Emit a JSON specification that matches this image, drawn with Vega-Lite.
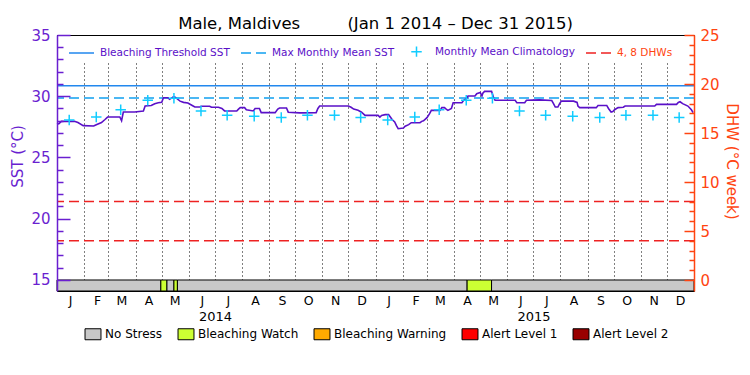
{
  "$schema": "https://vega.github.io/schema/vega-lite/v6.json",
  "width": 637,
  "height": 256,
  "autosize": {"type": "none"},
  "padding": {"left": 57, "top": 35, "right": 56, "bottom": 84},
  "title": {"text": "Male, Maldives\u00a0\u00a0\u00a0\u00a0\u00a0\u00a0\u00a0\u00a0\u00a0(Jan 1 2014 \u2013 Dec 31 2015)", "font": "DejaVu Sans", "fontSize": 16.5, "fontWeight": "normal", "color": "black", "anchor": "middle", "frame": "group", "offset": -17, "baseline": "alphabetic"},
  "config": {
    "font": "DejaVu Sans",
    "view": {"stroke": "black", "strokeWidth": 1},
    "axis": {"labelFont": "DejaVu Sans", "titleFont": "DejaVu Sans"},
    "legend": {"labelFont": "DejaVu Sans"}
  },
  "resolve": {"scale": {"y": "independent"}, "axis": {"x": "independent"}},
  "layer": [
    {
      "layer": [
        {
          "data": {"values": [
            {"start": "2014/01/01", "end": "2014/04/30", "level": "No Stress"},
            {"start": "2014/04/30", "end": "2014/05/07", "level": "Bleaching Watch"},
            {"start": "2014/05/07", "end": "2014/05/15", "level": "No Stress"},
            {"start": "2014/05/15", "end": "2014/05/19", "level": "Bleaching Watch"},
            {"start": "2014/05/19", "end": "2015/04/16", "level": "No Stress"},
            {"start": "2015/04/16", "end": "2015/05/14", "level": "Bleaching Watch"},
            {"start": "2015/05/14", "end": "2016/01/01", "level": "No Stress"}
          ]},
          "mark": {"type": "rect", "stroke": "black", "strokeWidth": 1},
          "encoding": {
            "x": {"field": "start", "type": "temporal",
              "scale": {"domain": [{"year": 2014, "month": 1, "date": 1}, {"year": 2016, "month": 1, "date": 1}]},
              "axis": {"orient": "bottom", "title": null,
                "values": [
                  {"year": 2014, "month": 1, "date": 1}, {"year": 2014, "month": 2, "date": 1}, {"year": 2014, "month": 3, "date": 1}, {"year": 2014, "month": 4, "date": 1},
                  {"year": 2014, "month": 5, "date": 1}, {"year": 2014, "month": 6, "date": 1}, {"year": 2014, "month": 7, "date": 1}, {"year": 2014, "month": 8, "date": 1},
                  {"year": 2014, "month": 9, "date": 1}, {"year": 2014, "month": 10, "date": 1}, {"year": 2014, "month": 11, "date": 1}, {"year": 2014, "month": 12, "date": 1},
                  {"year": 2015, "month": 1, "date": 1}, {"year": 2015, "month": 2, "date": 1}, {"year": 2015, "month": 3, "date": 1}, {"year": 2015, "month": 4, "date": 1},
                  {"year": 2015, "month": 5, "date": 1}, {"year": 2015, "month": 6, "date": 1}, {"year": 2015, "month": 7, "date": 1}, {"year": 2015, "month": 8, "date": 1},
                  {"year": 2015, "month": 9, "date": 1}, {"year": 2015, "month": 10, "date": 1}, {"year": 2015, "month": 11, "date": 1}, {"year": 2015, "month": 12, "date": 1}
                ],
                "labelExpr": "substring(timeFormat(datum.value, '%b'), 0, 1)",
                "labelOffset": 13, "labelPadding": 3, "tickSize": 0, "domain": false,
                "grid": true, "gridColor": "black", "gridDash": [1, 3], "gridWidth": 1, "gridOpacity": 1,
                "labelFontSize": 12.5, "labelColor": "black", "labelFlush": false, "labelOverlap": false}},
            "x2": {"field": "end"},
            "y": {"datum": 14.102, "type": "quantitative", "scale": {"domain": [14.102, 35], "nice": false, "zero": false}},
            "y2": {"datum": 15},
            "fill": {"field": "level", "type": "nominal",
              "scale": {"domain": ["No Stress", "Bleaching Watch", "Bleaching Warning", "Alert Level 1", "Alert Level 2"],
                        "range": ["#C8C8C8", "#CCFF33", "#FFAA00", "#FF0000", "#990000"]},
              "legend": {"orient": "none", "legendX": 30, "legendY": 293, "direction": "horizontal", "title": null,
                "symbolType": "M-1.45,-1H1.45V1H-1.45Z", "symbolSize": 121, "symbolStrokeColor": "black", "symbolStrokeWidth": 1,
                "labelFontSize": 12, "labelColor": "black", "columnPadding": 13, "labelOffset": 6, "padding": 0}}
          }
        },
        {
          "data": {"values": [
            {"series": "Bleaching Threshold SST", "sst": 30.85},
            {"series": "Max Monthly Mean SST", "sst": 29.85}
          ]},
          "mark": {"type": "rule", "strokeWidth": 1.5},
          "encoding": {
            "y": {"field": "sst", "type": "quantitative", "scale": {"domain": [14.102, 35], "nice": false, "zero": false},
              "axis": {"orient": "left", "title": "SST (\u00b0C)", "zindex": 1,
                "values": [15, 20, 25, 30, 35],
                "tickSize": -13, "labelPadding": 20,
                "domainColor": "#6A1FD0", "domainWidth": 1.5, "tickColor": "#6A1FD0", "tickWidth": 1.5,
                "labelColor": "#6A1FD0", "labelFontSize": 15, "grid": false, "labelOverlap": false, "labelFlush": false,
                "titleColor": "#6A1FD0", "titleFontSize": 15, "titleFontWeight": "normal",
                "titleX": -40, "titleY": 121, "titleAngle": -90, "titleAlign": "center", "titleBaseline": "middle"}},
            "color": {"field": "series", "type": "nominal",
              "scale": {"domain": ["Bleaching Threshold SST", "Max Monthly Mean SST", "Monthly Mean Climatology", "4, 8 DHWs"],
                        "range": ["#2288EE", "#11A0F0", "#11CCFF", "#EE2222"]},
              "legend": {"orient": "none", "legendX": 9, "legendY": 1, "direction": "horizontal", "title": null,
                "fillColor": "white", "padding": 2, "labelFontSize": 10.5, "labelOffset": 5, "columnPadding": 8, "symbolSize": 400,
                "encoding": {
                  "symbols": {
                    "shape": {"value": {"expr": "datum.value === 'Monthly Mean Climatology' ? 'M-1,0H1M0,-1V1' : 'stroke'"}},
                    "size": {"value": {"expr": "datum.value === 'Monthly Mean Climatology' ? 110 : 625"}},
                    "strokeDash": {"value": {"expr": "(datum.value === 'Max Monthly Mean SST' || datum.value === '4, 8 DHWs') ? [10, 5] : [1, 0]"}},
                    "stroke": {"value": {"expr": "scale('color', datum.value)"}},
                    "strokeWidth": {"value": 1.5},
                    "fill": {"value": "transparent"},
                    "opacity": {"value": 1}
                  },
                  "labels": {
                    "fill": {"value": {"expr": "datum.value === '4, 8 DHWs' ? '#FF4411' : '#5A10C8'"}}
                  }
                }}},
            "strokeDash": {"field": "series", "type": "nominal",
              "scale": {"domain": ["Bleaching Threshold SST", "Max Monthly Mean SST"], "range": [[1, 0], [10, 5]]},
              "legend": null}
          }
        }
      ]
    },
    {
      "layer": [
        {
          "data": {"values": [
            {"series": "4, 8 DHWs", "dhw": 4},
            {"series": "4, 8 DHWs", "dhw": 8}
          ]},
          "mark": {"type": "rule", "strokeWidth": 1.5, "strokeDash": [10, 5]},
          "encoding": {
            "y": {"field": "dhw", "type": "quantitative", "scale": {"domain": [-1.122, 25], "nice": false, "zero": false},
              "axis": {"orient": "right", "title": "DHW (\u00b0C week)", "zindex": 1,
                "values": [0, 5, 10, 15, 20, 25],
                "tickSize": -10, "labelPadding": 16,
                "domainColor": "#FF4411", "domainWidth": 1.5, "tickColor": "#FF4411", "tickWidth": 1.5,
                "labelColor": "#FF4411", "labelFontSize": 15, "grid": false, "labelOverlap": false, "labelFlush": false,
                "titleColor": "#FF4411", "titleFontSize": 15, "titleFontWeight": "normal",
                "titleX": 37, "titleY": 126, "titleAngle": 90, "titleAlign": "center", "titleBaseline": "middle"}},
            "color": {"field": "series", "type": "nominal",
              "scale": {"domain": ["Bleaching Threshold SST", "Max Monthly Mean SST", "Monthly Mean Climatology", "4, 8 DHWs"],
                        "range": ["#2288EE", "#11A0F0", "#11CCFF", "#EE2222"]}}
          }
        }
      ]
    },
    {
      "layer": [
        {
          "data": {"values": [
            {"date": "2014/01/01", "sst": 27.8}, {"date": "2014/01/03", "sst": 27.75}, {"date": "2014/01/06", "sst": 27.95},
            {"date": "2014/01/21", "sst": 27.95}, {"date": "2014/01/25", "sst": 27.85}, {"date": "2014/01/31", "sst": 27.6},
            {"date": "2014/02/12", "sst": 27.57}, {"date": "2014/02/15", "sst": 27.68}, {"date": "2014/02/21", "sst": 27.85},
            {"date": "2014/02/25", "sst": 28.1}, {"date": "2014/02/28", "sst": 28.3}, {"date": "2014/03/14", "sst": 28.31},
            {"date": "2014/03/16", "sst": 28.0}, {"date": "2014/03/18", "sst": 28.71}, {"date": "2014/03/31", "sst": 28.72},
            {"date": "2014/04/10", "sst": 28.8}, {"date": "2014/04/12", "sst": 29.2}, {"date": "2014/04/19", "sst": 29.25},
            {"date": "2014/04/23", "sst": 29.39}, {"date": "2014/04/27", "sst": 29.47}, {"date": "2014/05/01", "sst": 29.5},
            {"date": "2014/05/03", "sst": 29.88}, {"date": "2014/05/08", "sst": 29.88}, {"date": "2014/05/10", "sst": 29.75},
            {"date": "2014/05/14", "sst": 29.94}, {"date": "2014/05/16", "sst": 29.94}, {"date": "2014/05/22", "sst": 29.6},
            {"date": "2014/05/26", "sst": 29.5}, {"date": "2014/05/31", "sst": 29.45}, {"date": "2014/06/06", "sst": 29.2},
            {"date": "2014/06/08", "sst": 29.12}, {"date": "2014/06/14", "sst": 29.12}, {"date": "2014/06/15", "sst": 29.18},
            {"date": "2014/06/25", "sst": 29.18}, {"date": "2014/06/27", "sst": 29.1}, {"date": "2014/07/05", "sst": 29.1},
            {"date": "2014/07/09", "sst": 29.0}, {"date": "2014/07/12", "sst": 28.8}, {"date": "2014/07/26", "sst": 28.8},
            {"date": "2014/07/28", "sst": 28.95}, {"date": "2014/07/30", "sst": 29.07}, {"date": "2014/08/04", "sst": 29.07},
            {"date": "2014/08/06", "sst": 28.9}, {"date": "2014/08/14", "sst": 28.8}, {"date": "2014/08/16", "sst": 29.0},
            {"date": "2014/08/21", "sst": 29.0}, {"date": "2014/08/23", "sst": 28.66}, {"date": "2014/09/08", "sst": 28.66},
            {"date": "2014/09/11", "sst": 28.95}, {"date": "2014/09/13", "sst": 29.04}, {"date": "2014/09/21", "sst": 29.04},
            {"date": "2014/09/23", "sst": 28.7}, {"date": "2014/10/06", "sst": 28.64}, {"date": "2014/10/25", "sst": 28.66},
            {"date": "2014/10/27", "sst": 29.0}, {"date": "2014/10/29", "sst": 29.2}, {"date": "2014/12/01", "sst": 29.2},
            {"date": "2014/12/04", "sst": 29.1}, {"date": "2014/12/07", "sst": 28.95}, {"date": "2014/12/12", "sst": 28.85},
            {"date": "2014/12/16", "sst": 28.7}, {"date": "2014/12/20", "sst": 28.44}, {"date": "2015/01/04", "sst": 28.44},
            {"date": "2015/01/06", "sst": 28.3}, {"date": "2015/01/08", "sst": 28.44}, {"date": "2015/01/12", "sst": 28.5},
            {"date": "2015/01/16", "sst": 28.5}, {"date": "2015/01/18", "sst": 28.3}, {"date": "2015/01/20", "sst": 28.1},
            {"date": "2015/01/23", "sst": 27.9}, {"date": "2015/01/25", "sst": 27.6}, {"date": "2015/01/27", "sst": 27.35},
            {"date": "2015/02/02", "sst": 27.4}, {"date": "2015/02/04", "sst": 27.55}, {"date": "2015/02/08", "sst": 27.68},
            {"date": "2015/02/11", "sst": 27.84}, {"date": "2015/02/21", "sst": 27.84}, {"date": "2015/02/23", "sst": 27.95},
            {"date": "2015/02/25", "sst": 28.0}, {"date": "2015/03/01", "sst": 28.25}, {"date": "2015/03/04", "sst": 28.58},
            {"date": "2015/03/06", "sst": 28.85}, {"date": "2015/03/16", "sst": 28.85}, {"date": "2015/03/18", "sst": 29.07},
            {"date": "2015/03/21", "sst": 29.07}, {"date": "2015/03/23", "sst": 28.95}, {"date": "2015/03/25", "sst": 28.85},
            {"date": "2015/03/29", "sst": 29.0}, {"date": "2015/03/31", "sst": 29.47}, {"date": "2015/04/10", "sst": 29.47},
            {"date": "2015/04/12", "sst": 29.67}, {"date": "2015/04/15", "sst": 29.8}, {"date": "2015/04/17", "sst": 30.02},
            {"date": "2015/04/25", "sst": 30.02}, {"date": "2015/04/27", "sst": 30.21}, {"date": "2015/05/01", "sst": 30.3},
            {"date": "2015/05/03", "sst": 30.02}, {"date": "2015/05/04", "sst": 30.25}, {"date": "2015/05/06", "sst": 30.4},
            {"date": "2015/05/14", "sst": 30.4}, {"date": "2015/05/16", "sst": 29.95}, {"date": "2015/05/18", "sst": 29.67},
            {"date": "2015/06/10", "sst": 29.67}, {"date": "2015/06/12", "sst": 29.47}, {"date": "2015/06/21", "sst": 29.47},
            {"date": "2015/06/23", "sst": 29.67}, {"date": "2015/07/08", "sst": 29.7}, {"date": "2015/07/22", "sst": 29.65},
            {"date": "2015/07/24", "sst": 29.4}, {"date": "2015/07/26", "sst": 29.12}, {"date": "2015/07/29", "sst": 29.12},
            {"date": "2015/07/31", "sst": 29.4}, {"date": "2015/08/02", "sst": 29.6}, {"date": "2015/08/16", "sst": 29.6},
            {"date": "2015/08/20", "sst": 29.5}, {"date": "2015/08/21", "sst": 29.2}, {"date": "2015/08/23", "sst": 29.07},
            {"date": "2015/09/11", "sst": 29.07}, {"date": "2015/09/13", "sst": 29.25}, {"date": "2015/09/23", "sst": 29.25},
            {"date": "2015/09/25", "sst": 29.0}, {"date": "2015/09/28", "sst": 28.71}, {"date": "2015/09/30", "sst": 28.75},
            {"date": "2015/10/02", "sst": 28.9}, {"date": "2015/10/06", "sst": 29.07}, {"date": "2015/10/12", "sst": 29.1},
            {"date": "2015/10/14", "sst": 29.2}, {"date": "2015/11/17", "sst": 29.2}, {"date": "2015/11/19", "sst": 29.34},
            {"date": "2015/12/12", "sst": 29.34}, {"date": "2015/12/14", "sst": 29.5}, {"date": "2015/12/16", "sst": 29.55},
            {"date": "2015/12/19", "sst": 29.4}, {"date": "2015/12/25", "sst": 29.2}, {"date": "2015/12/29", "sst": 28.9},
            {"date": "2015/12/31", "sst": 28.66}
          ]},
          "mark": {"type": "line", "color": "#5A10C8", "strokeWidth": 1.6},
          "encoding": {
            "x": {"field": "date", "type": "temporal",
              "scale": {"domain": [{"year": 2014, "month": 1, "date": 1}, {"year": 2016, "month": 1, "date": 1}]},
              "axis": {"orient": "bottom", "title": null,
                "values": [{"year": 2014, "month": 7, "date": 1}, {"year": 2015, "month": 7, "date": 1}],
                "format": "%Y", "labelPadding": 19, "tickSize": 0, "domain": false, "grid": false,
                "labelFontSize": 13, "labelColor": "black", "labelFlush": false, "labelOverlap": false}},
            "y": {"field": "sst", "type": "quantitative", "scale": {"domain": [14.102, 35], "nice": false, "zero": false},
              "axis": {"orient": "left", "title": null, "zindex": 1,
                "values": [16, 17, 18, 19, 21, 22, 23, 24, 26, 27, 28, 29, 31, 32, 33, 34],
                "labels": false, "domain": false, "grid": false, "ticks": true,
                "tickSize": -6, "tickColor": "#6A1FD0", "tickWidth": 1.5}}
          }
        }
      ]
    },
    {
      "layer": [
        {
          "data": {"values": [
            {"date": "2014/01/15", "clim": 28.07, "series": "Monthly Mean Climatology"},
            {"date": "2014/02/15", "clim": 28.31, "series": "Monthly Mean Climatology"},
            {"date": "2014/03/15", "clim": 28.9, "series": "Monthly Mean Climatology"},
            {"date": "2014/04/15", "clim": 29.67, "series": "Monthly Mean Climatology"},
            {"date": "2014/05/15", "clim": 29.84, "series": "Monthly Mean Climatology"},
            {"date": "2014/06/15", "clim": 28.8, "series": "Monthly Mean Climatology"},
            {"date": "2014/07/15", "clim": 28.44, "series": "Monthly Mean Climatology"},
            {"date": "2014/08/15", "clim": 28.36, "series": "Monthly Mean Climatology"},
            {"date": "2014/09/15", "clim": 28.26, "series": "Monthly Mean Climatology"},
            {"date": "2014/10/15", "clim": 28.44, "series": "Monthly Mean Climatology"},
            {"date": "2014/11/15", "clim": 28.44, "series": "Monthly Mean Climatology"},
            {"date": "2014/12/15", "clim": 28.26, "series": "Monthly Mean Climatology"},
            {"date": "2015/01/15", "clim": 28.07, "series": "Monthly Mean Climatology"},
            {"date": "2015/02/15", "clim": 28.31, "series": "Monthly Mean Climatology"},
            {"date": "2015/03/15", "clim": 28.9, "series": "Monthly Mean Climatology"},
            {"date": "2015/04/15", "clim": 29.67, "series": "Monthly Mean Climatology"},
            {"date": "2015/05/15", "clim": 29.84, "series": "Monthly Mean Climatology"},
            {"date": "2015/06/15", "clim": 28.8, "series": "Monthly Mean Climatology"},
            {"date": "2015/07/15", "clim": 28.44, "series": "Monthly Mean Climatology"},
            {"date": "2015/08/15", "clim": 28.36, "series": "Monthly Mean Climatology"},
            {"date": "2015/09/15", "clim": 28.26, "series": "Monthly Mean Climatology"},
            {"date": "2015/10/15", "clim": 28.44, "series": "Monthly Mean Climatology"},
            {"date": "2015/11/15", "clim": 28.44, "series": "Monthly Mean Climatology"},
            {"date": "2015/12/15", "clim": 28.26, "series": "Monthly Mean Climatology"}
          ]},
          "mark": {"type": "point", "shape": "M-1,0H1M0,-1V1", "size": 110, "filled": false, "strokeWidth": 1.5, "opacity": 1},
          "encoding": {
            "x": {"field": "date", "type": "temporal",
              "scale": {"domain": [{"year": 2014, "month": 1, "date": 1}, {"year": 2016, "month": 1, "date": 1}]},
              "axis": null},
            "y": {"field": "clim", "type": "quantitative", "scale": {"domain": [14.102, 35], "nice": false, "zero": false},
              "axis": {"orient": "right", "title": null, "zindex": 1,
                "values": [15.8, 16.6, 17.4, 18.2, 19.8, 20.6, 21.4, 22.2, 23.8, 24.6, 25.4, 26.2, 27.8, 28.6, 29.4, 30.2, 31.8, 32.6, 33.4, 34.2],
                "labels": false, "domain": false, "grid": false, "ticks": true,
                "tickSize": -5, "tickColor": "#FF4411", "tickWidth": 1.5}},
            "color": {"field": "series", "type": "nominal",
              "scale": {"domain": ["Bleaching Threshold SST", "Max Monthly Mean SST", "Monthly Mean Climatology", "4, 8 DHWs"],
                        "range": ["#2288EE", "#11A0F0", "#11CCFF", "#EE2222"]}}
          }
        }
      ]
    }
  ]
}
